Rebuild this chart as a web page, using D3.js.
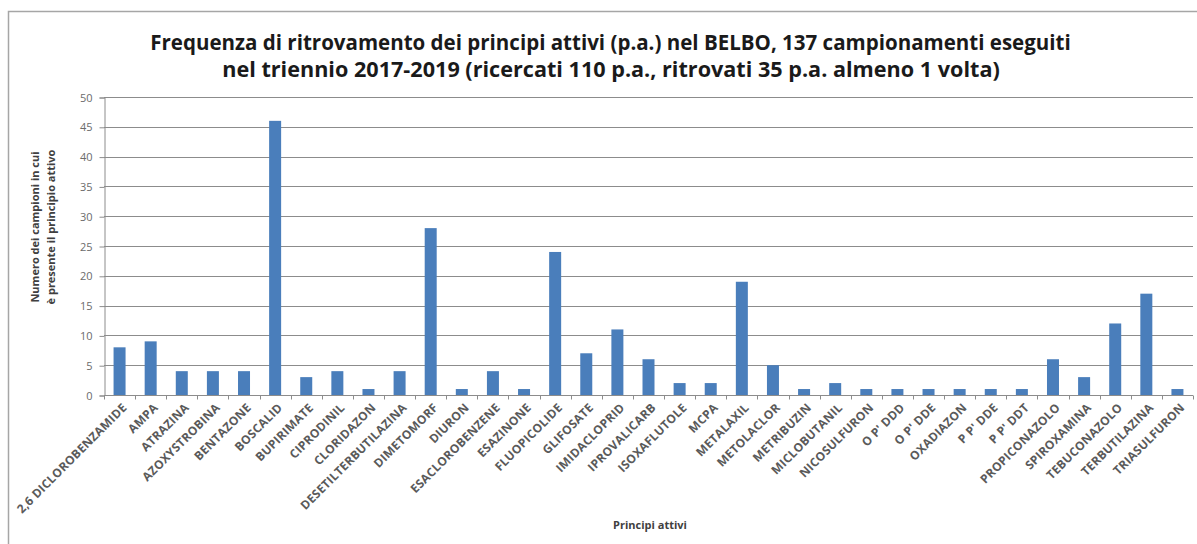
<!DOCTYPE html>
<meta charset="utf-8">
<script src="https://d3js.org/d3.v7.min.js"></script>
<style>
  body { margin: 0; background: #fff; }
  text { font-family: "Open Sans", sans-serif; }
</style>
<div id="chart"></div>
<script>

// categories and counts
const principi = ["2,6 DICLOROBENZAMIDE", "AMPA", "ATRAZINA", "AZOXYSTROBINA", "BENTAZONE",
  "BOSCALID", "BUPIRIMATE", "CIPRODINIL", "CLORIDAZON", "DESETILTERBUTILAZINA",
  "DIMETOMORF", "DIURON", "ESACLOROBENZENE", "ESAZINONE", "FLUOPICOLIDE",
  "GLIFOSATE", "IMIDACLOPRID", "IPROVALICARB", "ISOXAFLUTOLE", "MCPA",
  "METALAXIL", "METOLACLOR", "METRIBUZIN", "MICLOBUTANIL", "NICOSULFURON",
  "O P' DDD", "O P' DDE", "OXADIAZON", "P P' DDE", "P P' DDT",
  "PROPICONAZOLO", "SPIROXAMINA", "TEBUCONAZOLO", "TERBUTILAZINA", "TRIASULFURON"];
const campioni = [8, 9, 4, 4, 4, 46, 3, 4, 1, 4, 28, 1, 4, 1, 24, 7, 11, 6, 2, 2,
  19, 5, 1, 2, 1, 1, 1, 1, 1, 1, 6, 3, 12, 17, 1];
const yTicks = [0, 5, 10, 15, 20, 25, 30, 35, 40, 45, 50];
const titolo = ["Frequenza di ritrovamento dei principi attivi (p.a.) nel BELBO, 137 campionamenti eseguiti",
  "nel triennio 2017-2019 (ricercati 110 p.a., ritrovati 35 p.a. almeno 1 volta)"];
const yTitolo = ["Numero dei campioni in cui", "è presente il principio attivo"];

const W = 1197, H = 544;
const plot = {left: 104, right: 1193, top: 97, bottom: 395};

const svg = d3.select("#chart").append("svg")
  .attr("width", W).attr("height", H);

// outer chart frame (runs off the right and bottom edges)
svg.append("rect")
  .attr("x", 8.5).attr("y", 11.5)
  .attr("width", 1204).attr("height", 560)
  .attr("fill", "#fff").attr("stroke", "#a6a6a6").attr("stroke-width", 1.5);

let xb = d3.scaleBand().domain(principi).range([plot.left, plot.right]);
let y = d3.scaleLinear().domain([0, 50]).range([plot.bottom, plot.top]);

// gridlines
svg.append("g").selectAll("line")
  .data(yTicks.filter(d => d > 0))
  .join("line")
    .attr("x1", plot.left).attr("x2", plot.right)
    .attr("y1", d => Math.round(y(d)) + 0.5).attr("y2", d => Math.round(y(d)) + 0.5)
    .attr("stroke", "#8c8c8c").attr("stroke-width", 1);

// y axis
let yAxis = svg.append("g")
  .attr("transform", "translate(" + (plot.left + 0.5) + ",0.5)")
  .call(d3.axisLeft(y).tickValues(yTicks).tickSize(5).tickPadding(7));
yAxis.select(".domain").attr("stroke", "#8c8c8c");
yAxis.selectAll(".tick line").attr("stroke", "#8c8c8c");
yAxis.selectAll(".tick text")
  .style("font-family", "'Open Sans', sans-serif")
  .style("font-size", "11px").attr("fill", "#6b6b6b");

// bars
svg.append("g").selectAll("rect")
  .data(campioni)
  .join("rect")
    .attr("x", (d, i) => xb(principi[i]) + (xb.bandwidth() - 12) / 2)
    .attr("y", d => y(d))
    .attr("width", 12)
    .attr("height", d => y(0) - y(d))
    .attr("fill", "#4a7ebb");

// x axis: ticks between categories, labels rotated
let xAxis = svg.append("g")
  .attr("transform", "translate(0," + (plot.bottom + 0.5) + ")");
xAxis.append("line")
  .attr("x1", plot.left).attr("x2", plot.right)
  .attr("stroke", "#8c8c8c");
xAxis.selectAll("line.tk")
  .data(principi.concat(["__end"]))
  .join("line")
    .attr("class", "tk")
    .attr("x1", (d, i) => Math.round(plot.left + i * xb.step()) + 0.5)
    .attr("x2", (d, i) => Math.round(plot.left + i * xb.step()) + 0.5)
    .attr("y1", 0).attr("y2", 4)
    .attr("stroke", "#8c8c8c");
xAxis.selectAll("text")
  .data(principi)
  .join("text")
    .attr("transform", d => "translate(" + (xb(d) + xb.bandwidth() / 2 + 5) + ",10) rotate(-45)")
    .attr("text-anchor", "end")
    .attr("dy", "0.35em")
    .style("font-size", "12px")
    .style("font-weight", "bold")
    .style("letter-spacing", "0.2px")
    .attr("fill", "#5a5a5a")
    .text(d => d);

// title, fitted to the width measured on the picture
const titleSpan = [[150, 1071, 50], [222, 1000, 77]];
titolo.forEach((t, i) => {
  let s = titleSpan[i];
  let tx = svg.append("text")
    .attr("x", (s[0] + s[1]) / 2).attr("y", s[2])
    .attr("text-anchor", "middle")
    .style("font-weight", "bold").style("font-size", "19px")
    .attr("fill", "#1a1a1a")
    .text(t);
  let w = tx.node().getComputedTextLength();
  tx.style("font-size", (19 * (s[1] - s[0]) / w).toFixed(2) + "px");
});

// y axis title
yTitolo.forEach((t, i) => {
  svg.append("text")
    .attr("transform", "translate(" + (39 + i * 16) + ",227) rotate(-90)")
    .attr("text-anchor", "middle")
    .style("font-size", "11px").style("font-weight", "bold")
    .attr("fill", "#404040")
    .text(t);
});

// x axis title
svg.append("text")
  .attr("x", 650).attr("y", 529)
  .attr("text-anchor", "middle")
  .style("font-size", "11px").style("font-weight", "bold")
  .attr("fill", "#404040")
  .text("Principi attivi");

</script>
